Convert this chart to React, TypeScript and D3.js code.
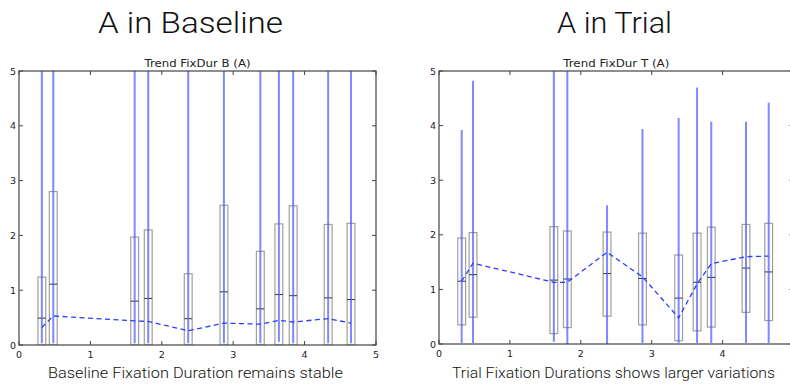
import React from 'react'
import * as d3 from 'd3'

// box positions along x (shared by both panels)
const positions = [0.32, 0.48, 1.62, 1.81, 2.37, 2.87, 3.38, 3.64, 3.84, 4.33, 4.65]

// Baseline panel
const baseQ1 = [0, 0, 0, 0, 0, 0, 0, 0, 0, 0, 0]
const baseQ3 = [1.24, 2.80, 1.97, 2.10, 1.30, 2.55, 1.71, 2.21, 2.54, 2.20, 2.22]
const baseMed = [0.49, 1.11, 0.80, 0.85, 0.48, 0.97, 0.66, 0.92, 0.90, 0.86, 0.83]
const baseLow = [0.03, 0.03, 0.03, 0.03, 0.03, 0.03, 0.03, 0.06, 0.03, 0.03, 0.03]
const baseHigh = [6, 6, 6, 6, 6, 6, 6, 6, 6, 6, 6]
const baseMean = [0.32, 0.53, 0.44, 0.43, 0.26, 0.40, 0.38, 0.45, 0.42, 0.48, 0.40]

// Trial panel
const trialQ1 = [0.35, 0.49, 0.19, 0.30, 0.51, 0.35, 0.06, 0.24, 0.31, 0.58, 0.43]
const trialQ3 = [1.94, 2.04, 2.15, 2.07, 2.05, 2.03, 1.63, 2.03, 2.14, 2.19, 2.21]
const trialMed = [1.15, 1.27, 1.17, 1.19, 1.29, 1.20, 0.84, 1.13, 1.22, 1.39, 1.32]
const trialLow = [0.02, 0.02, 0.04, 0, 0, 0.02, 0.02, 0.02, 0.02, 0.02, 0.02]
const trialHigh = [3.92, 4.82, 6, 6, 2.54, 3.94, 4.14, 4.70, 4.07, 4.07, 4.42]
const trialMean = [1.15, 1.48, 1.13, 1.13, 1.68, 1.23, 0.48, 1.10, 1.47, 1.60, 1.61]

const ticks = [0, 1, 2, 3, 4, 5]
const boxWidth = 0.11
const W = 790

type PanelProps = {
  id: string
  title: string
  x0: number
  x1: number
  y0: number
  y1: number
  q1: number[]
  q3: number[]
  med: number[]
  low: number[]
  high: number[]
  mean: number[]
}

function Panel({ id, title, x0, x1, y0, y1, q1, q3, med, low, high, mean }: PanelProps) {
  const x = d3.scaleLinear().domain([0, 5]).range([x0, x1])
  const y = d3.scaleLinear().domain([0, 5]).range([y0, y1])
  const half = (x(boxWidth) - x(0)) / 2
  const line = d3.line<number>()
    .x((_, i) => x(positions[i]))
    .y(d => y(d))

  return (
    <g>
      <defs>
        <clipPath id={id}>
          <rect x={x0} y={y1} width={x1 - x0} height={y0 - y1} />
        </clipPath>
      </defs>
      <text x={(x0 + x1) / 2} y={y1 - 4} textAnchor="middle" fontSize={10}
        fontFamily="DejaVu Sans" fill="#222" textLength={106} lengthAdjust="spacingAndGlyphs">{title}</text>
      <g clipPath={`url(#${id})`}>
        {positions.map((p, i) => (
          <g key={i}>
            <rect x={x(p) - half} y={y(q3[i])} width={half * 2} height={y(q1[i]) - y(q3[i])}
              fill="none" stroke="#a0a0a0" strokeWidth={1.2} />
            <line x1={x(p) - half} x2={x(p) + half} y1={y(med[i])} y2={y(med[i])}
              stroke="#333" strokeWidth={1} />
            <line x1={x(p)} x2={x(p)} y1={y(low[i])} y2={y(high[i])}
              stroke="#4a5cff" strokeOpacity={0.72} strokeWidth={2} />
          </g>
        ))}
        <path d={line(mean) || ''} fill="none" stroke="#2a3cff" strokeWidth={1.3} strokeDasharray="5,3.5" />
      </g>
      <rect x={x0} y={y1} width={x1 - x0} height={y0 - y1} fill="none" stroke="#444" strokeWidth={1.2} />
      {ticks.map(t => (
        <g key={t}>
          <line x1={x(t)} x2={x(t)} y1={y0} y2={y0 - 4} stroke="#444" />
          <line x1={x(t)} x2={x(t)} y1={y1} y2={y1 + 4} stroke="#444" />
          <line x1={x0} x2={x0 + 4} y1={y(t)} y2={y(t)} stroke="#444" />
          <line x1={x1} x2={x1 - 4} y1={y(t)} y2={y(t)} stroke="#444" />
          {x(t) + 4 < W && (
            <text x={x(t)} y={y0 + 13} textAnchor="middle" fontSize={9.5}
              fontFamily="DejaVu Sans" fill="#222">{t}</text>
          )}
          <text x={x0 - 3} y={y(t) + 3.5} textAnchor="end" fontSize={9.5}
            fontFamily="DejaVu Sans" fill="#222">{t}</text>
        </g>
      ))}
    </g>
  )
}

export default function App() {
  const heading = { fontFamily: 'Roboto', fontWeight: 300, fill: '#111' }
  return (
    <svg width={W} height={386} style={{ position: 'absolute', left: 0, top: 0, background: '#fff' }}>
      <text x={190.5} y={33} textAnchor="middle" fontSize={29} textLength={185}
        lengthAdjust="spacingAndGlyphs" {...heading}>A in Baseline</text>
      <text x={614.5} y={33} textAnchor="middle" fontSize={29} textLength={115}
        lengthAdjust="spacingAndGlyphs" {...heading}>A in Trial</text>
      <Panel id="clipB" title="Trend FixDur B (A)" x0={19} x1={376} y0={345} y1={71}
        q1={baseQ1} q3={baseQ3} med={baseMed} low={baseLow} high={baseHigh} mean={baseMean} />
      <Panel id="clipT" title="Trend FixDur T (A)" x0={439} x1={793.5} y0={344} y1={71}
        q1={trialQ1} q3={trialQ3} med={trialMed} low={trialLow} high={trialHigh} mean={trialMean} />
      <text x={195.5} y={378} textAnchor="middle" fontSize={15} textLength={295}
        lengthAdjust="spacingAndGlyphs" {...heading}>Baseline Fixation Duration remains stable</text>
      <text x={613.5} y={378} textAnchor="middle" fontSize={15} textLength={323}
        lengthAdjust="spacingAndGlyphs" {...heading}>Trial Fixation Durations shows larger variations</text>
    </svg>
  )
}
